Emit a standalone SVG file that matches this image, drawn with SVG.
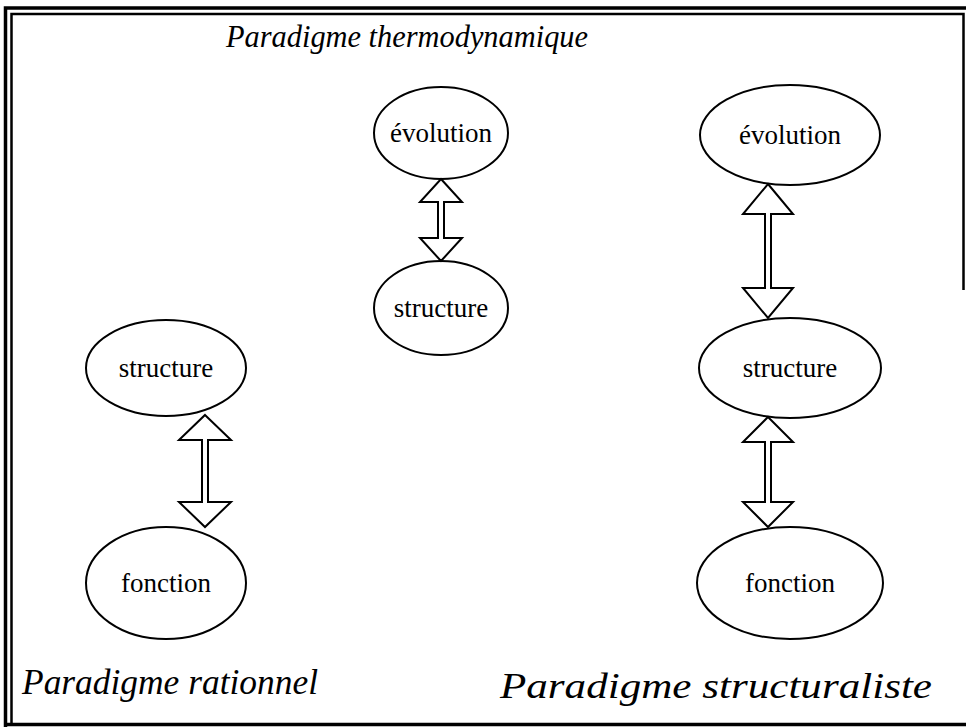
<svg xmlns="http://www.w3.org/2000/svg" width="966" height="727" viewBox="0 0 966 727">
  <style>
    .frame { fill: none; stroke: #000; }
    .node ellipse { fill: #fff; stroke: #000; stroke-width: 2; }
    .node text { font-family: "Liberation Serif", "Times New Roman", serif; font-size: 27px; fill: #000; text-anchor: middle; }
    .title { font-family: "Liberation Serif", "Times New Roman", serif; font-style: italic; font-size: 31px; fill: #000; }
    .link { fill: #fff; stroke: #000; stroke-width: 2; stroke-linejoin: miter; }
  </style>
  <rect width="966" height="727" fill="#fff"/>

  <!-- double border frame -->
  <g id="frame">
    <path class="frame" stroke-width="3.5" d="M5.5 727 V8 H966"/>
    <path class="frame" stroke-width="2.5" d="M11.5 724 V14 H963.5 V290"/>
    <path class="frame" stroke-width="3.5" d="M4 724.5 H966"/>
  </g>

  <!-- paradigm titles -->
  <text class="title" x="226" y="47" style="font-size:32px" textLength="362" lengthAdjust="spacingAndGlyphs">Paradigme thermodynamique</text>
  <text class="title" x="22" y="694" style="font-size:35px" textLength="296" lengthAdjust="spacingAndGlyphs">Paradigme rationnel</text>
  <text class="title" x="500" y="698" style="font-size:35px" textLength="432" lengthAdjust="spacingAndGlyphs">Paradigme structuraliste</text>

  <!-- rational paradigm -->
  <g id="rat-structure" class="node">
    <ellipse cx="166" cy="368" rx="80" ry="48"/>
    <text x="166" y="377">structure</text>
  </g>
  <g id="rat-fonction" class="node">
    <ellipse cx="166" cy="583" rx="80" ry="56"/>
    <text x="166" y="592">fonction</text>
  </g>

  <!-- thermodynamic paradigm -->
  <g id="thermo-evolution" class="node">
    <ellipse cx="441" cy="133" rx="67" ry="46"/>
    <text x="441" y="142">évolution</text>
  </g>
  <g id="thermo-structure" class="node">
    <ellipse cx="441" cy="308" rx="67" ry="47"/>
    <text x="441" y="317">structure</text>
  </g>

  <!-- structuralist paradigm -->
  <g id="struct-evolution" class="node">
    <ellipse cx="790" cy="135" rx="90" ry="50"/>
    <text x="790" y="144">évolution</text>
  </g>
  <g id="struct-structure" class="node">
    <ellipse cx="790" cy="368" rx="91" ry="50"/>
    <text x="790" y="377">structure</text>
  </g>
  <g id="struct-fonction" class="node">
    <ellipse cx="790" cy="583" rx="93" ry="56"/>
    <text x="790" y="592">fonction</text>
  </g>

  <!-- double-headed block arrows -->
  <g id="connectors">
    <polygon class="link" points="205,415 231,440 208,440 208,502 231,502 205,527 179,502 202,502 202,440 179,440"/>
    <polygon class="link" points="441,179 462,202 444,202 444,238 462,238 441,261 420,238 438,238 438,202 420,202"/>
    <polygon class="link" points="768,184 793,214 771,214 771,288 793,288 768,318 743,288 765,288 765,214 743,214"/>
    <polygon class="link" points="768,417 793,442 771,442 771,502 793,502 768,527 743,502 765,502 765,442 743,442"/>
  </g>
</svg>
